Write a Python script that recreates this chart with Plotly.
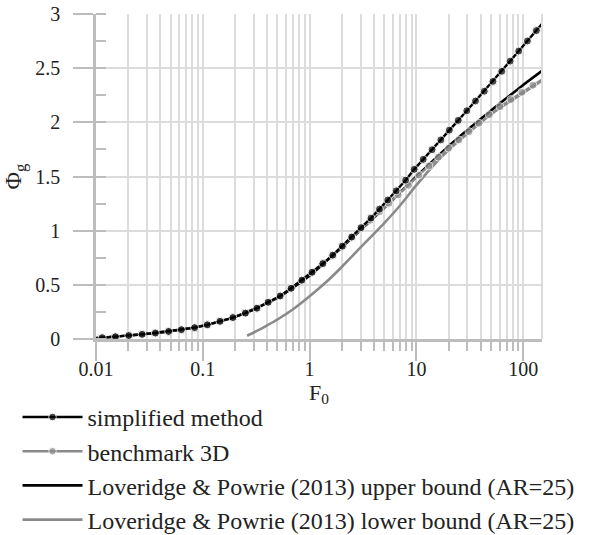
import plotly.graph_objects as go

# ---------------- data ----------------
simp_F0 = [0.01, 0.01143, 0.01521, 0.02025, 0.02703, 0.03597, 0.04786, 0.06295, 0.0838,
           0.1102, 0.1448, 0.1914, 0.2506, 0.3209, 0.4093, 0.5297, 0.6714, 0.8453,
           1.055, 1.329, 1.648, 2.025, 2.480, 3.029, 3.757, 4.510, 5.393, 6.462,
           7.925, 9.537, 11.58, 14.02, 16.94, 20.34, 24.64, 29.65, 35.75, 43.2,
           52.1, 62.95, 75.44, 90.78, 109.5, 132.9, 169.4]
simp_phi = [0.008, 0.012, 0.021, 0.032, 0.043, 0.055, 0.070, 0.086, 0.105,
            0.131, 0.163, 0.198, 0.239, 0.284, 0.339, 0.397, 0.468, 0.543,
            0.616, 0.696, 0.774, 0.857, 0.941, 1.028, 1.116, 1.199, 1.283, 1.368,
            1.466, 1.566, 1.658, 1.747, 1.838, 1.928, 2.018, 2.107, 2.197, 2.287,
            2.378, 2.471, 2.565, 2.658, 2.751, 2.847, 2.969]

bench_F0 = [0.01, 0.01143, 0.01521, 0.02025, 0.02703, 0.03597, 0.04786, 0.06295, 0.0838,
            0.1102, 0.1448, 0.1914, 0.2506, 0.3209, 0.4093, 0.5297, 0.6714, 0.8453,
            1.055, 1.329, 1.648, 2.025, 2.480, 3.042, 3.716, 4.539, 5.534, 6.745,
            8.417, 10.55, 13.09, 16.06, 20.04, 24.96, 31.08, 38.55, 48.11, 60.70,
            76.74, 97.25, 123.5, 162.3]
bench_phi = [0.008, 0.012, 0.021, 0.032, 0.043, 0.055, 0.070, 0.086, 0.105,
             0.131, 0.163, 0.198, 0.239, 0.284, 0.339, 0.397, 0.468, 0.543,
             0.616, 0.696, 0.774, 0.857, 0.940, 1.017, 1.097, 1.176, 1.253, 1.330,
             1.419, 1.513, 1.598, 1.679, 1.761, 1.837, 1.914, 1.991, 2.070, 2.144,
             2.210, 2.277, 2.343, 2.415]

upper_F0 = [0.01, 0.02, 0.05, 0.1, 0.2, 0.5, 1, 1.5, 2, 3, 5, 7, 10, 15, 20, 30, 50, 70, 100, 150]
upper_phi = [0.008, 0.032, 0.073, 0.123, 0.204, 0.380, 0.585, 0.735, 0.845, 1.005, 1.210,
             1.350, 1.500, 1.665, 1.780, 1.930, 2.110, 2.225, 2.345, 2.475]

lower_F0 = [0.26, 0.3, 0.35, 0.4, 0.5, 0.7, 1, 1.5, 2, 3, 5, 7, 10, 15, 20, 30, 50, 100, 150]
lower_phi = [0.030, 0.060, 0.094, 0.125, 0.180, 0.275, 0.395, 0.545, 0.665, 0.845, 1.070,
             1.230, 1.420, 1.620, 1.745, 1.895, 2.075, 2.272, 2.385]

x_tickvals = [0.01, 0.1, 1, 10, 100]
x_ticktext = ["0.01", "0.1", "1", "10", "100"]
y_tickvals = [0, 0.5, 1, 1.5, 2, 2.5, 3]
y_ticktext = ["0", "0.5", "1", "1.5", "2", "2.5", "3"]

names = ["simplified method", "benchmark 3D",
         "Loveridge & Powrie (2013) upper bound (AR=25)",
         "Loveridge & Powrie (2013) lower bound (AR=25)"]

# ---------------- styling ----------------
BLACK = "#000000"
GRAY = "#8a8a8a"
GRID = "#dcdcdc"
AXIS = "#bdbdbd"
FONT = "Liberation Serif"
TXT = "#222222"


def marker_sizes(n, size):
    s = [size] * n
    s[0] = 0
    s[-1] = 0
    return s


fig = go.Figure()
fig.add_trace(go.Scatter(x=lower_F0, y=lower_phi, mode="lines", name=names[3],
                         line=dict(color=GRAY, width=2.6, shape="spline", smoothing=0.6)))
fig.add_trace(go.Scatter(x=upper_F0, y=upper_phi, mode="lines", name=names[2],
                         line=dict(color=BLACK, width=2.6, shape="spline", smoothing=0.6)))
fig.add_trace(go.Scatter(x=bench_F0, y=bench_phi, mode="lines+markers", name=names[1],
                         line=dict(color=GRAY, width=2.4),
                         marker=dict(color=GRAY, size=marker_sizes(len(bench_F0), 8))))
fig.add_trace(go.Scatter(x=simp_F0, y=simp_phi, mode="lines+markers", name=names[0],
                         line=dict(color=BLACK, width=2.4),
                         marker=dict(color=BLACK, size=marker_sizes(len(simp_F0), 8))))

fig.update_layout(
    width=590, height=535,
    margin=dict(l=96, r=48, t=14, b=196, autoexpand=False),
    paper_bgcolor="white", plot_bgcolor="white",
    font=dict(family=FONT, size=20, color=TXT),
    showlegend=True,
    legend=dict(x=-0.176, y=-0.172, xanchor="left", yanchor="top",
                traceorder="reversed", font=dict(family=FONT, size=24, color=TXT),
                itemwidth=60, tracegroupgap=0, bgcolor="rgba(0,0,0,0)"),
    xaxis=dict(type="log", range=[-2, 2.176],
               tickvals=x_tickvals, ticktext=x_ticktext,
               tickfont=dict(family=FONT, size=20, color=TXT),
               ticklabelstandoff=-9,
               ticks="outside", ticklen=19, tickwidth=2, tickcolor=AXIS,
               showline=True, linecolor=AXIS, linewidth=2.5,
               showgrid=True, gridcolor=GRID, gridwidth=1.5,
               zeroline=False,
               minor=dict(ticks="outside", ticklen=9, tickwidth=2, tickcolor=AXIS,
                          showgrid=True, gridcolor=GRID, gridwidth=1.5, dtick="D1"),
               title=dict(text="F<sub>0</sub>", font=dict(family=FONT, size=22, color=TXT),
                          standoff=4)),
    yaxis=dict(range=[0, 3], tickvals=y_tickvals, ticktext=y_ticktext,
               tickfont=dict(family=FONT, size=20, color=TXT),
               ticklabelstandoff=9,
               ticks="outside", ticklen=20, tickwidth=2, tickcolor=AXIS,
               showline=True, linecolor=AXIS, linewidth=2.5,
               showgrid=True, gridcolor=GRID, gridwidth=2,
               zeroline=False,
               minor=dict(ticks="inside", ticklen=10, tickwidth=2, tickcolor=AXIS,
                          dtick=0.25, showgrid=False),
               title=dict(text="Φ<sub>g</sub>", font=dict(family=FONT, size=24, color=TXT),
                          standoff=10)),
    shapes=[dict(type="line", xref="paper", yref="paper", x0=1, x1=1, y0=0, y1=1,
                 line=dict(color=GRID, width=2))],
)

fig.write_html("out.html")
